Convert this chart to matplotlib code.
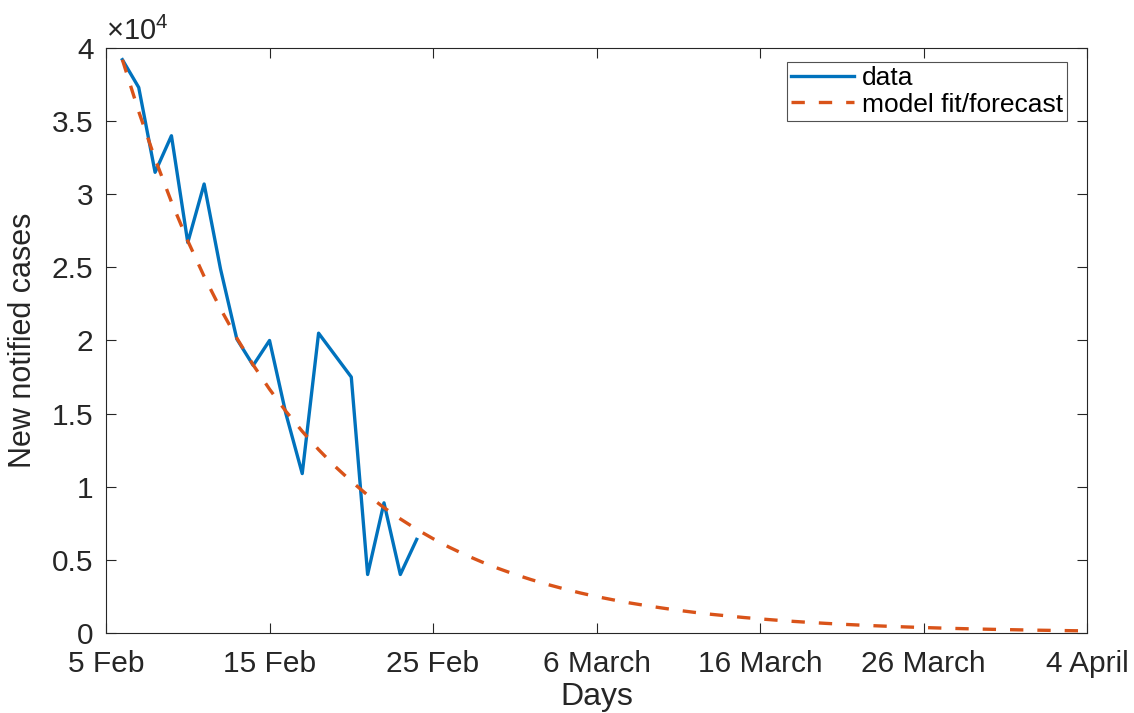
import matplotlib
matplotlib.use('Agg')
import matplotlib.pyplot as plt
from matplotlib.ticker import FuncFormatter

plt.rcParams['font.family'] = ['Liberation Sans', 'DejaVu Sans']
plt.rcParams['mathtext.fontset'] = 'custom'
plt.rcParams['mathtext.rm'] = 'Liberation Sans'
plt.rcParams['mathtext.it'] = 'Liberation Sans:italic'

# days since 5 Feb
data_days = list(range(1, 20))
data_cases = [39200, 37300, 31500, 34000, 26700, 30700, 24900, 20100, 18300, 20000,
              15000, 10900, 20500, 19000, 17500, 4000, 8900, 4000, 6400]

model_days = list(range(1, 61))
model_cases = [39200, 35650, 32420, 29480, 26810, 24380, 22170, 20160, 18330, 16670,
               15160, 13790, 12540, 11400, 10370, 9430, 8570, 7800, 7090, 6450,
               5860, 5330, 4850, 4410, 4010, 3650, 3320, 3020, 2740, 2490,
               2270, 2060, 1880, 1710, 1550, 1410, 1280, 1170, 1060, 965,
               878, 798, 726, 660, 600, 546, 497, 452, 411, 374,
               340, 309, 281, 256, 233, 212, 192, 175, 159, 145]

tick_days = [0, 10, 20, 30, 40, 50, 60]
tick_labels = ['5 Feb', '15 Feb', '25 Feb', '6 March', '16 March', '26 March', '4 April']

fig = plt.figure(figsize=(11.34, 7.13), dpi=100)
ax = fig.add_axes([0.0935, 0.1122, 0.8651, 0.8205])

ax.plot(data_days, data_cases, color='#0072BD', lw=2.4, label='data')
ax.plot(model_days, model_cases, color='#D95319', lw=2.4, ls=(0, (4, 4.2)),
        label='model fit/forecast')

ax.set_xlim(0, 60)
ax.set_ylim(0, 40000)
ax.set_xticks(tick_days)
ax.set_xticklabels(tick_labels)
ax.set_yticks([i * 5000 for i in range(9)])
ax.yaxis.set_major_formatter(FuncFormatter(lambda v, p: '%g' % (v / 1e4)))

for s in ax.spines.values():
    s.set_color('#262626')
    s.set_linewidth(0.8)
ax.tick_params(direction='in', length=7, width=0.8, colors='#262626',
               labelsize=21.5, top=True, right=True)
ax.tick_params(axis='x', pad=12)
ax.tick_params(axis='y', pad=9)
for lab in ax.get_xticklabels() + ax.get_yticklabels():
    lab.set_color('#262626')

ax.text(0.0, 1.004, r'$\times10^4$', transform=ax.transAxes, fontsize=21,
        color='#262626', ha='left', va='bottom')

ax.set_xlabel('Days', fontsize=23, color='#262626', labelpad=3)
ax.set_ylabel('New notified cases', fontsize=22, color='#262626', labelpad=10)

leg = ax.legend(loc='upper right', bbox_to_anchor=(0.9794, 0.9761), fontsize=19,
                frameon=True, fancybox=False, borderpad=0.15, labelspacing=0.1,
                handlelength=2.4, handletextpad=0.3, borderaxespad=0)
leg.get_frame().set_edgecolor('#262626')
leg.get_frame().set_linewidth(0.8)

fig.savefig('out.png', dpi=100)
